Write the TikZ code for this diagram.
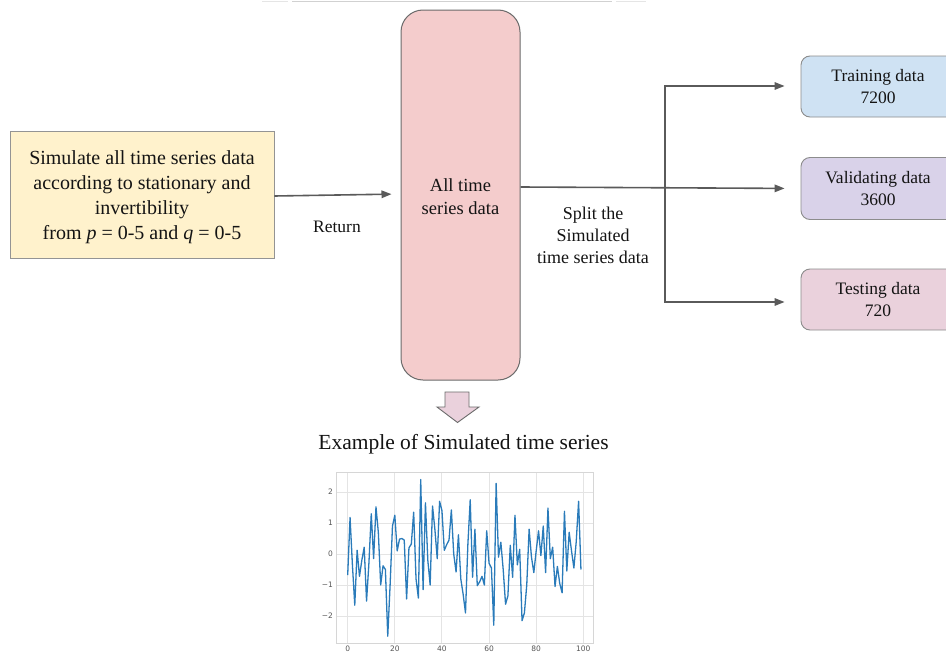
\documentclass[tikz,border=0pt]{standalone}
\usepackage{fontspec}
\setmainfont{Liberation Serif}
\newfontfamily\tickfont{DejaVu Sans}
\usetikzlibrary{arrows.meta}

\definecolor{arrowgray}{HTML}{5A5A5A}
\definecolor{simfill}{HTML}{FFF2CC}
\definecolor{allfill}{HTML}{F4CCCC}
\definecolor{trainfill}{HTML}{CFE2F3}
\definecolor{valfill}{HTML}{D9D2E9}
\definecolor{testfill}{HTML}{EAD1DC}
\definecolor{downfill}{HTML}{EAD1DC}
\definecolor{gridgray}{HTML}{E4E4E4}
\definecolor{framegray}{HTML}{D6D6D6}
\definecolor{tickgray}{HTML}{555555}
\definecolor{serieblue}{HTML}{2A7BBA}
\definecolor{txt}{HTML}{141414}

\tikzset{
  conn/.style={draw=arrowgray, line width=1.6pt, -{Triangle[length=10pt,width=7.5pt]}},
  simbox/.style={draw=black!42, fill=simfill, line width=0.9pt, align=center, text=txt,
    font=\fontsize{20}{25}\selectfont, inner sep=0pt},
  allbox/.style={draw=black!58, fill=allfill, line width=1pt, rounded corners=22pt,
    align=center, text=txt, font=\fontsize{18.5}{23}\selectfont, inner sep=0pt},
  setbox/.style={draw=black!45, line width=0.9pt, rounded corners=9pt, align=center,
    text=txt, font=\fontsize{17.5}{22}\selectfont, inner sep=0pt,
    minimum width=154pt},
  lbl/.style={align=center, text=txt, inner sep=0pt},
  ticklbl/.style={text=tickgray, font=\tickfont\fontsize{7.5}{9}\selectfont, inner sep=0pt},
}

\begin{document}
\begin{tikzpicture}[x=1pt, y=-1pt]
\useasboundingbox (0,0) rectangle (946,653);
\fill[white] (0,0) rectangle (946,653);

% thin remnants along the top edge
\draw[black!18, line width=0.8pt] (292,1) -- (612,1);
\draw[black!10, line width=0.8pt] (262,1) -- (288,1) (616,1) -- (646,1);

% simulation box
\node[simbox, minimum width=264pt, minimum height=127pt] (sim) at (142,194.5) {};
\node[lbl, font=\fontsize{20}{25}\selectfont] (simtext) at (142,197.5)
  {Simulate all time series data\\according to stationary and\\invertibility\\from \textit{p} = 0-5 and \textit{q} = 0-5};

% collected data column
\node[allbox, minimum width=119pt, minimum height=370pt] (all) at (460.5,195) {};
\node[lbl, font=\fontsize{18.5}{23}\selectfont] (alltext) at (460.5,197)
  {All time\\series data};

% split targets
\node[setbox, fill=trainfill, minimum height=61pt] (train) at (878,86.5) {Training data\\7200};
\node[setbox, fill=valfill, minimum height=62pt] (val) at (878,188.5) {Validating data\\3600};
\node[setbox, fill=testfill, minimum height=61pt] (test) at (878,299.5) {Testing data\\720};

% return arrow
\draw[conn, shorten >=9pt] ([yshift=-1.5pt]sim.east) -- ([yshift=1pt]all.west);
\node[lbl, font=\fontsize{17.5}{21}\selectfont] (ret) at (337,227) {Return};

% split arrows
\coordinate (fork) at (665,187);
\draw[conn, shorten >=16pt] ([yshift=8pt]all.east) -- (val.west);
\draw[conn, shorten >=16pt] (fork) |- ([yshift=0.5pt]train.west);
\draw[conn, shorten >=16pt] (fork) |- ([yshift=-2.5pt]test.west);
\node[lbl, font=\fontsize{18}{22}\selectfont] (split) at (593,235)
  {Split the\\Simulated\\time series data};

% block arrow down to the example
\draw[draw=black!58, fill=downfill, line width=0.9pt]
  (445,392) -- (469,392) -- (469,407) -- (479,407) -- (457.5,422.5)
  -- (437,407) -- (445,407) -- cycle;

\node[lbl, font=\fontsize{21.5}{26}\selectfont] (title) at (463.5,444)
  {Example of Simulated time series};

% example series plot
\begin{scope}[shift={(347.7,554)}, x=2.356pt, y=31pt]
  \foreach \gx in {0,20,...,100}
    \draw[gridgray, line width=0.9pt] (\gx,-2.87) -- (\gx,2.645);
  \foreach \gy in {-2,...,2}
    \draw[gridgray, line width=0.9pt] (-4.97,\gy) -- (104.1,\gy);
  \draw[framegray, line width=0.9pt] (-4.97,-2.87) rectangle (104.1,2.645);
  \draw[serieblue, line width=1.3pt, line join=round] plot coordinates {
    (0,-0.68) (1,1.18) (2,-0.35) (3,-1.65) (4,0.12) (5,-0.72) (6,-0.2) (7,0.22)
    (8,-1.52) (9,-0.3) (10,1.3) (11,-0.15) (12,1.52) (13,0.7) (14,-1.0) (15,-0.38)
    (16,-0.5) (17,-2.65) (18,-1.0) (19,0.9) (20,1.25) (21,0.1) (22,0.48) (23,0.5)
    (24,0.45) (25,-1.45) (26,0.2) (27,0.32) (28,1.35) (29,-0.8) (30,-1.42) (31,2.4)
    (32,-1.15) (33,1.65) (34,-0.2) (35,-1.0) (36,1.55) (37,0.8) (38,-0.15) (39,1.7)
    (40,1.4) (41,0.12) (42,0.3) (43,0.45) (44,1.42) (45,0.0) (46,-0.58) (47,0.62)
    (48,-0.8) (49,-1.3) (50,-1.9) (51,0.3) (52,1.75) (53,-0.75) (54,0.8) (55,-1.02)
    (56,-0.9) (57,-0.72) (58,-1.0) (59,0.75) (60,-0.3) (61,-0.45) (62,-2.3) (63,2.28)
    (64,-0.1) (65,0.38) (66,-0.5) (67,-1.62) (68,-1.35) (69,0.28) (70,-0.75) (71,1.25)
    (72,-0.35) (73,0.15) (74,-2.15) (75,-1.9) (76,-1.0) (77,0.8) (78,-0.1) (79,-0.6)
    (80,0.1) (81,0.75) (82,-0.05) (83,0.9) (84,-0.6) (85,1.48) (86,-0.15) (87,0.22)
    (88,-1.05) (89,-0.4) (90,-0.95) (91,-1.25) (92,1.38) (93,-0.55) (94,0.7) (95,0.1)
    (96,-0.45) (97,0.4) (98,1.7) (99,-0.5)};
  \foreach \gy/\t in {-2/−2,-1/−1,0/0,1/1,2/2}
    \node[ticklbl, anchor=east] at (-6.2,\gy) {\t};
  \foreach \gx in {0,20,...,100}
    \node[ticklbl, anchor=north] at (\gx,-2.95) {\gx};
\end{scope}
\end{tikzpicture}
\end{document}
